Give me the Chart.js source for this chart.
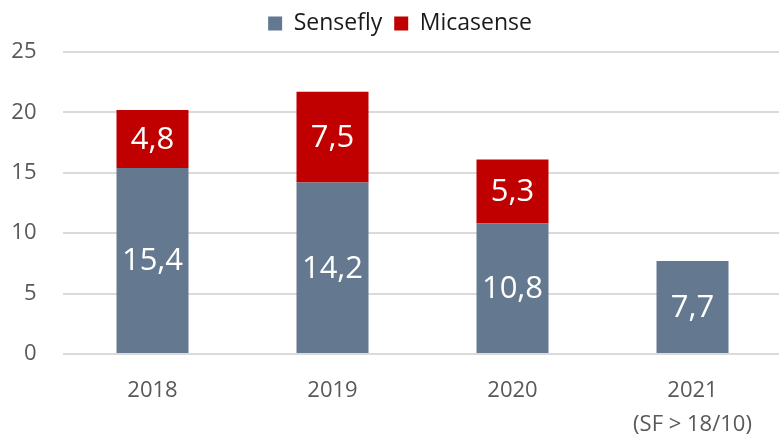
<!DOCTYPE html>
<html>
<head>
<meta charset="utf-8">
<script src="https://cdn.jsdelivr.net/npm/chart.js@4"></script>
<style>
html,body{margin:0;padding:0;background:#fff;overflow:hidden;width:779px;height:434px;}
#wrap{width:800px;height:434px;position:relative;}
</style>
</head>
<body>
<div id="wrap"><canvas id="c"></canvas></div>
<script>
const categories = [["2018"], ["2019"], ["2020"], ["2021", "(SF > 18/10)"]];
const sensefly = [15.4, 14.2, 10.8, 7.7];
const micasense = [4.8, 7.5, 5.3, null];
const yTicks = [0, 5, 10, 15, 20, 25];

const labelPlugin = {
  id: 'barLabels',
  afterDatasetsDraw(chart) {
    const ctx = chart.ctx;
    ctx.save();
    ctx.font = '31px "Open Sans"';
    ctx.fillStyle = '#ffffff';
    ctx.textAlign = 'center';
    ctx.textBaseline = 'middle';
    chart.data.datasets.forEach((ds, i) => {
      const meta = chart.getDatasetMeta(i);
      meta.data.forEach((el, j) => {
        const v = ds.data[j];
        if (v === null || v === undefined) return;
        const p = el.getProps(['x', 'y', 'base'], true);
        ctx.fillText(v.toFixed(1).replace('.', ','), p.x, (p.y + p.base) / 2 + 1);
      });
    });
    ctx.restore();
  }
};

const legendTweak = {
  id: 'legendTweak',
  beforeInit(chart) {
    const lg = chart.legend;
    const origFit = lg.fit;
    lg.fit = function () {
      origFit.call(this);
      this.height += 7;
    };
    const origDraw = lg.draw;
    lg.draw = function () {
      const ctx = this.ctx;
      ctx.save();
      ctx.translate(8.75, 0);
      origDraw.call(this);
      ctx.restore();
    };
  }
};

new Chart(document.getElementById('c'), {
  type: 'bar',
  data: {
    labels: categories,
    datasets: [
      { label: 'Sensefly', data: sensefly, backgroundColor: '#64798f', barPercentage: 0.4, categoryPercentage: 1 },
      { label: 'Micasense', data: micasense, backgroundColor: '#c00000', barPercentage: 0.4, categoryPercentage: 1 }
    ]
  },
  options: {
    responsive: true,
    maintainAspectRatio: false,
    animation: false,
    layout: { padding: { top: 0, right: 17.5, left: 0, bottom: 0 } },
    plugins: {
      legend: {
        position: 'top',
        labels: {
          font: { family: 'Open Sans', size: 23 },
          color: '#1a1a1a',
          boxWidth: 14,
          boxHeight: 14,
          padding: 12
        }
      },
      tooltip: { enabled: false }
    },
    scales: {
      x: {
        stacked: true,
        grid: { display: false, drawTicks: false },
        border: { display: false },
        ticks: {
          font: { family: 'Open Sans', size: 22, lineHeight: 1.55 },
          color: '#595959',
          padding: 20,
          maxRotation: 0
        },
        afterFit(scale) { scale.height = 80; }
      },
      y: {
        stacked: true,
        min: 0,
        max: 25,
        afterBuildTicks(scale) { scale.ticks = yTicks.map(v => ({ value: v })); },
        grid: { color: '#dadada', lineWidth: 2, drawTicks: false },
        border: { display: false },
        ticks: {
          font: { family: 'Open Sans', size: 22 },
          color: '#595959',
          padding: 26
        },
        afterFit(scale) { scale.width = 62.5; }
      }
    }
  },
  plugins: [labelPlugin, legendTweak]
});
</script>
</body>
</html>
